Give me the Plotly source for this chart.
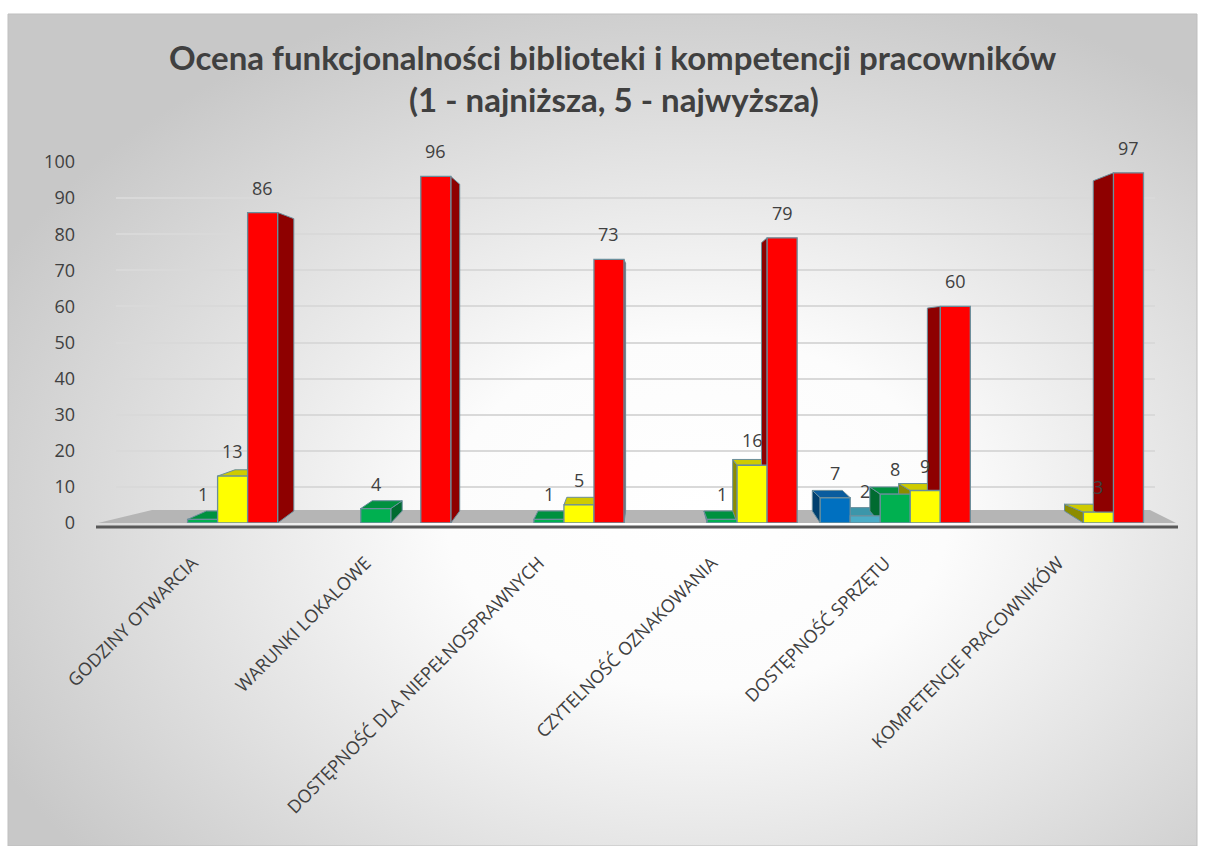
import base64
import plotly.graph_objects as go

# ---------------- data ----------------
categories = [
    "GODZINY OTWARCIA",
    "WARUNKI LOKALOWE",
    "DOSTĘPNOŚĆ DLA NIEPEŁNOSPRAWNYCH",
    "CZYTELNOŚĆ OZNAKOWANIA",
    "DOSTĘPNOŚĆ SPRZĘTU",
    "KOMPETENCJE PRACOWNIKÓW",
]
series_names = ["1", "2", "3", "4", "5"]
ocena_1 = [None, None, None, None, 7, None]
ocena_2 = [None, None, None, None, 2, None]
ocena_3 = [1, 4, 1, 1, 8, None]
ocena_4 = [13, None, 5, 16, 9, 3]
ocena_5 = [86, 96, 73, 79, 60, 97]
y_ticks = [0, 10, 20, 30, 40, 50, 60, 70, 80, 90, 100]

series = [ocena_1, ocena_2, ocena_3, ocena_4, ocena_5]
front_colors = ["#0070C0", "#4BACC6", "#00B050", "#FFFF00", "#FF0000"]
side_colors = ["#003F6E", "#2F7F92", "#006B30", "#8C8C00", "#8E0000"]
top_colors = ["#0A5C9E", "#3C96AA", "#00913F", "#CFCB00", "#D00000"]

# ---------------- geometry (pixels) ----------------
FW, FH = 1205, 846
L, R, T, B = 116, 1155, 162, 523
W, H = R - L, B - T
bargap = 0.133
n = len(series)
bw = (1 - bargap) / n
px_per_unit = H / 100.0


def px(x):
    return (x - L) / W


def py(y):
    return (B - y) / H


fig = go.Figure()
for name, vals, col in zip(series_names, series, front_colors):
    fig.add_trace(go.Bar(
        x=categories, y=vals, name=name,
        marker=dict(color=col, line=dict(color="#6A8E9C", width=1.3)),
        hoverinfo="skip",
    ))

shapes = []
annotations = []
# floor
shapes.append(dict(
    type="path", xref="paper", yref="paper", layer="between",
    path=f"M {px(98)},{py(523)} L {px(1176)},{py(523)} L {px(1150)},{py(510)} L {px(152)},{py(510)} Z",
    fillcolor="#B5B5B5", line=dict(width=0),
))
shapes.append(dict(
    type="line", xref="paper", yref="paper", layer="between",
    x0=px(96), x1=px(1178), y0=py(527), y1=py(527),
    line=dict(color="#595959", width=3),
))

# pseudo-3D faces and data labels, derived from data values
vx_cat = 2.57
k = 0.042
back_floor = 12 / px_per_unit
for si, vals in enumerate(series):
    for ci, v in enumerate(vals):
        if v is None:
            continue
        xc = ci + (si - (n - 1) / 2) * bw
        xl, xr = xc - bw / 2, xc + bw / 2
        dx = k * (vx_cat - xc)
        dv = 0.17 * (50 - v) / px_per_unit
        edge = xr if dx > 0 else xl
        shapes.append(dict(
            type="path", xref="x", yref="y", layer="between",
            path=f"M {edge},0 L {edge},{v} L {edge + dx},{v + dv} L {edge + dx},{back_floor} Z",
            fillcolor=side_colors[si], line=dict(color="#6A8E9C", width=1),
        ))
        if dv > 0:
            shapes.append(dict(
                type="path", xref="x", yref="y", layer="between",
                path=f"M {xl},{v} L {xr},{v} L {xr + dx},{v + dv} L {xl + dx},{v + dv} Z",
                fillcolor=top_colors[si], line=dict(color="#6A8E9C", width=1),
            ))
        annotations.append(dict(
            x=xc, y=v, xref="x", yref="y", text=str(v), showarrow=False,
            xanchor="center", yanchor="middle", yshift=25,
            font=dict(family="Open Sans", size=18, color="#404040"),
        ))

# chart frame
shapes.append(dict(
    type="rect", xref="paper", yref="paper", layer="below",
    x0=px(8), x1=px(1197), y0=py(846), y1=py(14),
    line=dict(color="#BFBFBF", width=1), fillcolor="rgba(0,0,0,0)",
))

annotations += [
    dict(text="<b>Ocena funkcjonalności biblioteki i kompetencji pracowników</b>",
         xref="paper", yref="paper", x=px(613), y=py(57), showarrow=False,
         xanchor="center", yanchor="middle",
         font=dict(family="Lato", size=33, color="#404040")),
    dict(text="<b>(1 - najniższa, 5 - najwyższa)</b>",
         xref="paper", yref="paper", x=px(614), y=py(99), showarrow=False,
         xanchor="center", yanchor="middle",
         font=dict(family="Lato", size=33, color="#404040")),
]

svg = (
    '<svg xmlns="http://www.w3.org/2000/svg" width="1189" height="832" viewBox="0 0 1189 832" preserveAspectRatio="none">'
    '<defs><radialGradient id="g" cx="0.58" cy="0.6" r="0.66">'
    '<stop offset="0" stop-color="#FFFFFF"/><stop offset="0.32" stop-color="#FCFCFC"/>'
    '<stop offset="1" stop-color="#C8C8C8"/></radialGradient></defs>'
    '<rect width="1189" height="832" fill="url(#g)"/></svg>'
)
src = "data:image/svg+xml;base64," + base64.b64encode(svg.encode()).decode()

fig.update_layout(
    width=FW, height=FH,
    margin=dict(l=L, r=FW - R, t=T, b=FH - B, pad=0),
    paper_bgcolor="white",
    plot_bgcolor="rgba(0,0,0,0)",
    barmode="group", bargap=bargap, bargroupgap=0,
    showlegend=False,
    shapes=shapes,
    annotations=annotations,
    images=[dict(
        source=src, xref="paper", yref="paper",
        x=px(8), y=py(14), sizex=(1197 - 8) / W, sizey=(846 - 14) / H,
        xanchor="left", yanchor="top", sizing="stretch", layer="below",
    )],
)
fig.update_xaxes(
    range=[-0.5, len(categories) - 0.5],
    tickangle=-45, showline=False, ticks="",
    tickfont=dict(family="Open Sans", size=18, color="#404040"),
    ticklabelshift=-10, ticklabelstandoff=25,
)
fig.update_yaxes(
    range=[0, 100], tickvals=y_ticks, ticks="",
    showgrid=True, gridcolor="#D9D9D9", gridwidth=2, zeroline=False,
    tickfont=dict(family="Open Sans", size=18, color="#404040"),
    ticklabelstandoff=40,
)

fig.write_html(
    "out.html",
    config={"displayModeBar": False},
    post_script="document.body.style.margin='0px';",
)
